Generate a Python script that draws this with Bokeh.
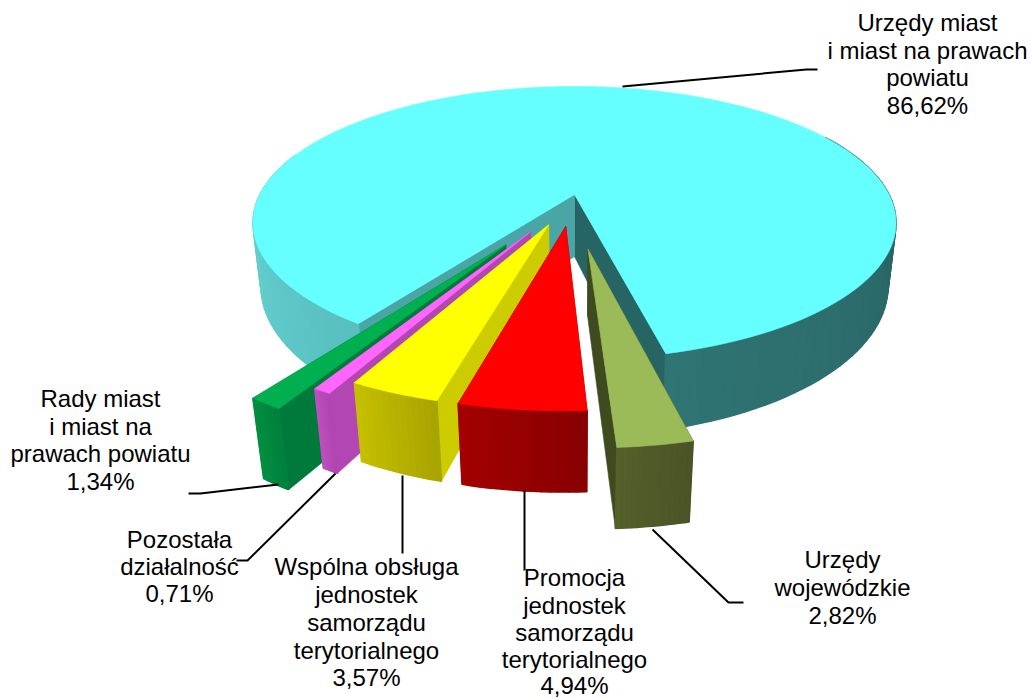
import math
from bokeh.plotting import figure
from bokeh.embed import file_html
from bokeh.resources import INLINE
from bokeh.core.properties import value

# ---- data ----
categories = ["Urzędy wojewódzkie", "Promocja jednostek samorządu terytorialnego",
              "Wspólna obsługa jednostek samorządu terytorialnego", "Pozostała działalność",
              "Rady miast i miast na prawach powiatu", "Urzędy miast i miast na prawach powiatu"]
shares = [2.82, 4.94, 3.57, 0.71, 1.34, 86.62]
explode = [0.385, 0.235, 0.235, 0.30, 0.41, 0.0]
explode_dir = [5.85, -6.5, -19.5, -26.0, -29.5, 0.0]

# ---- style ----
top_col = ["#9bbb59", "#ff0000", "#ffff00", "#ff66ff", "#00b050", "#66ffff"]
rim_a = [(0x55, 0x60, 0x2b), (0xa4, 0x00, 0x00), (0xc6, 0xc0, 0x00), (0xc0, 0x50, 0xc0), (0x00, 0x90, 0x42), None]
rim_b = [(0x4b, 0x54, 0x26), (0x88, 0x00, 0x00), (0xa8, 0xa4, 0x00), (0xb0, 0x46, 0xb0), (0x00, 0x80, 0x3c), None]
wall_left = ["#3f4a1e", "#8a0000", "#cccc00", "#b246b2", "#007a3a", "#4aa6a6"]
wall_right = ["#3f4a1e", "#8a0000", "#cccc00", "#b246b2", "#007a3a", "#276464"]

CX, CY, R, A, K = 574.0, 194.0, 314.5, 130.5, 0.208
VP_Y = 2800.0
PHI0 = 13.4


def proj(X, Y):
    s = 1.0 / (1.0 + K * Y)
    return CX + R * X * s, CY - A * Y * s


def depth_px(y):
    return min(81.0, 62.0 + (y - 194.0) * 0.09)


def drop(px, py):
    d = depth_px(py)
    t = d / (VP_Y - py)
    return px + (CX - px) * t, py + d


def P(phi, ox=0.0, oy=0.0, r=1.0):
    a = math.radians(phi)
    return proj(ox + r * math.sin(a), oy - r * math.cos(a))


def hexc(c):
    return "#%02x%02x%02x" % tuple(int(round(v)) for v in c)


def lerp(a, b, t):
    return tuple(a[i] + (b[i] - a[i]) * t for i in range(3))


p = figure(width=1031, height=699, x_range=(0, 1031), y_range=(699, 0),
           output_backend="svg", toolbar_location=None, min_border=0)
p.axis.visible = False
p.grid.visible = False
p.outline_line_color = None
p.background_fill_color = "white"
p.border_fill_color = "white"


def poly(pts, color, lw=0.6):
    p.patch([q[0] for q in pts], [q[1] for q in pts], fill_color=color, line_color=color, line_width=lw)


def wall(a, b, color):
    poly([a, b, drop(*b), drop(*a)], color)


# angular extents
bounds = []
phi = PHI0
for sh in shares:
    d = sh * 3.6
    bounds.append((phi, phi - d))
    phi -= d

# ---- main slice: goes the other way round, from the right cut to the left cut ----
m_start = PHI0
m_end = PHI0 + shares[-1] * 3.6
apex = proj(0, 0)
n = 160
rim_pts = [m_start + (m_end - m_start) * i / n for i in range(n + 1)]
wall(apex, P(m_start), wall_right[5])
wall(apex, P(m_end), wall_left[5])
right_a, right_b = (0x30, 0x74, 0x74), (0x26, 0x5e, 0x5e)
left_a, left_b = (0x6e, 0xde, 0xde), (0x58, 0xbe, 0xbe)
for i in range(n):
    a0, a1 = rim_pts[i], rim_pts[i + 1]
    if a1 < 120:
        col = lerp(right_a, right_b, (a1 - m_start) / (120 - m_start))
    elif a0 > 250:
        col = lerp(left_a, left_b, (a0 - 250) / (m_end - 250))
    else:
        continue
    p0, p1 = P(a0), P(a1)
    poly([p0, p1, drop(*p1), drop(*p0)], hexc(col), 1.5)
poly([apex] + [P(a) for a in rim_pts], top_col[5])


# ---- exploded slices ----
def draw_slice(i, right_first):
    hi, lo = bounds[i]
    mid = math.radians(explode_dir[i])
    ox, oy = explode[i] * math.sin(mid), -explode[i] * math.cos(mid)
    ap = proj(ox, oy)
    east, west = P(hi, ox, oy), P(lo, ox, oy)
    if right_first:
        wall(ap, east, wall_right[i])
        wall(ap, west, wall_left[i])
    else:
        wall(ap, west, wall_left[i])
        wall(ap, east, wall_right[i])
    m = 14
    angs = [lo + (hi - lo) * j / m for j in range(m + 1)]
    for j in range(m):
        q0, q1 = P(angs[j], ox, oy), P(angs[j + 1], ox, oy)
        poly([q0, q1, drop(*q1), drop(*q0)], hexc(lerp(rim_a[i], rim_b[i], (j + 0.5) / m)), 1.5)
    poly([ap] + [P(a, ox, oy) for a in angs], top_col[i])


draw_slice(0, True)
for idx in (4, 3, 2, 1):
    draw_slice(idx, False)

# ---- leader lines ----
leaders = [
    ([622, 806, 817], [86, 69, 69]),
    ([278, 200, 188], [484, 493, 493]),
    ([335, 247, 236], [473, 560, 560]),
    ([402, 402], [475, 553]),
    ([524, 524], [490, 570]),
    ([652, 728, 743], [529, 602, 602]),
]
for xs, ys in leaders:
    p.line(xs, ys, line_color="black", line_width=2)

# ---- labels ----
labels = [
    (927, [22, 50, 77, 105], ["Urzędy miast", "i miast na prawach", "powiatu", "86,62%"]),
    (100, [398, 426, 453, 481], ["Rady miast", "i miast na", "prawach powiatu", "1,34%"]),
    (179, [539, 566, 593], ["Pozostała", "działalność", "0,71%"]),
    (366, [566, 594, 622, 650, 677], ["Wspólna obsługa", "jednostek", "samorządu", "terytorialnego", "3,57%"]),
    (574, [577, 605, 632, 659, 685], ["Promocja", "jednostek", "samorządu", "terytorialnego", "4,94%"]),
    (842, [559, 587, 615], ["Urzędy", "wojewódzkie", "2,82%"]),
]
for x, ys, lines in labels:
    p.text([x] * len(lines), ys, text=lines, text_align="center", text_baseline="middle",
           text_font=value("Liberation Sans"), text_font_size="24px", text_color="black")

open("out.html", "w").write(file_html(p, INLINE))
